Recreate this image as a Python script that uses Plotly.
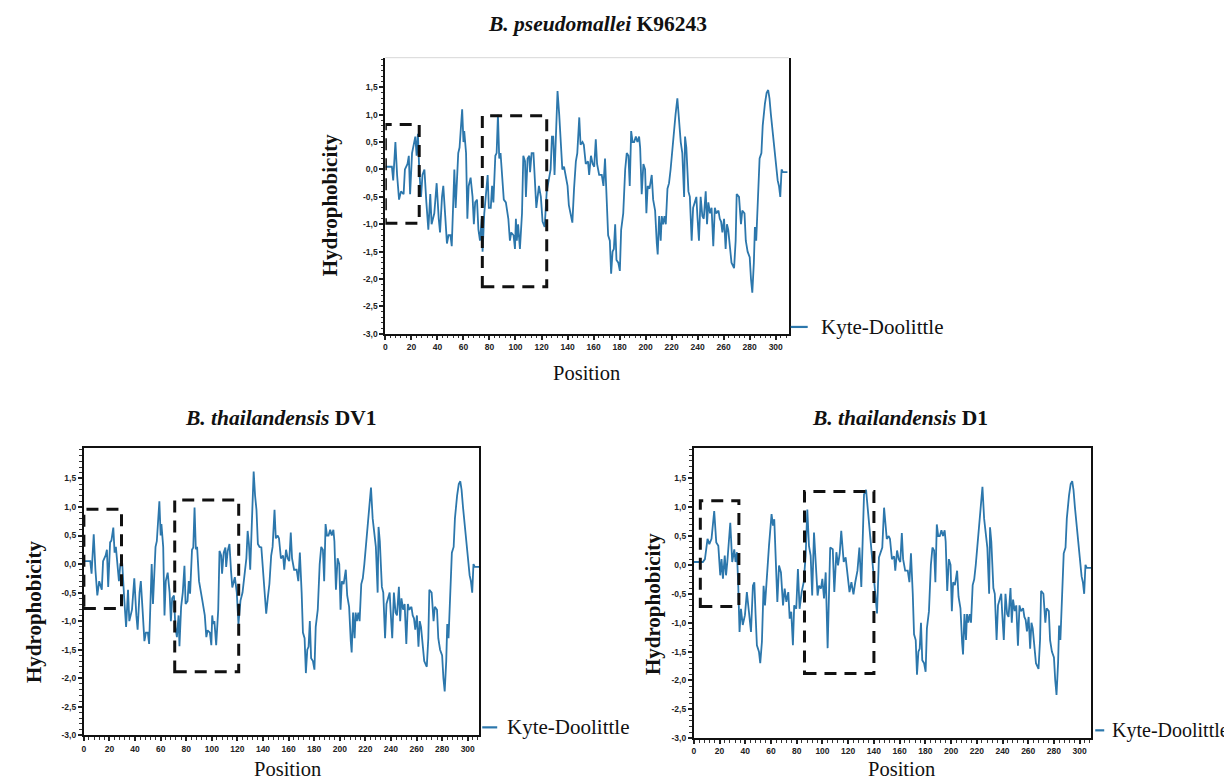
import plotly.graph_objects as go

W, H = 1232, 780

# ---------------- data ----------------
# B. pseudomallei K96243
kp_pos = [0, 5, 6, 7.7, 9, 10.5, 12, 14, 15, 17,
          18, 19, 20.5, 21.5, 23, 24, 25, 26, 27.4, 28.5,
          30, 31.5, 33, 34.5, 35.5, 37.6, 39.4, 41, 42, 43.5,
          44.5, 46, 47.3, 48.5, 50, 51, 53, 54, 55, 56,
          57, 59, 60, 60.6, 62, 63, 64, 65.5, 67, 68,
          69, 70.4, 71.5, 72.7, 74, 74.7, 76, 77.3, 78.6, 79.5,
          81, 82, 83, 84.5, 85.5, 86.5, 87.5, 88.5, 90, 91,
          92.6, 94.5, 95.7, 96.7, 98.5, 99.6, 100.3, 101, 102, 103.4,
          105, 106, 107.3, 108, 109.3, 110.6, 111.2, 112.4, 113.8, 115,
          116, 118, 119.5, 120.8, 122.4, 124, 125.5, 127, 128, 129,
          130, 131.3, 132.3, 133.6, 134.9, 136, 137.3, 138.7, 140, 141,
          142.5, 143.7, 145, 146.4, 147.5, 149, 150, 151.5, 152.5, 154,
          155.7, 156.6, 158, 159.3, 160.5, 161.7, 162.7, 164.3, 166.3, 167.6,
          168.8, 170.2, 171.2, 172.5, 173.5, 174.6, 175.6, 176.6, 177.6, 179,
          180.2, 181.2, 182.8, 184.3, 185.5, 186.8, 187.8, 188.9, 190, 191.2,
          192.5, 193.7, 195, 195.8, 197, 198.3, 199.6, 200.6, 201.6, 203,
          204.7, 205.8, 207.3, 208.6, 209.3, 210.4, 211.6, 212.4, 213.4, 214.5,
          215.5, 216.8, 218, 219.2, 220.6, 221.8, 223, 224.4, 225.7, 227,
          228.2, 229.6, 230.3, 231.3, 232.9, 234, 235.4, 236.5, 237.8, 239,
          239.8, 241, 242.3, 243.6, 244.7, 246.2, 247.2, 248.2, 249.5, 250.7,
          252, 253.2, 254.3, 256, 257, 258, 259, 260.3, 261.5, 262.5,
          263.5, 264.8, 266, 268, 269.2, 270, 271.8, 273.3, 274.3, 276,
          277, 278.4, 280, 281, 282, 283.2, 284, 285, 286.5, 287.6,
          289, 290, 291.7, 293, 294.2, 295.2, 296.3, 297.3, 299, 300,
          301.5, 302.5, 303.5, 304.5, 305.5, 309]
kp_val = [0.05, 0.05, -0.2, 0.5, -0.1, -0.55, -0.4, -0.45, 0.0, 0.1,
          0.25, -0.45, 0.3, 0.4, 0.6, 0.25, 0.65, 0.0, -0.5, -0.1,
          0.0, -0.6, -1.1, -0.45, -1.0, -0.8, -0.25, -0.9, -1.15, -0.5,
          -0.3, -0.85, -1.35, -1.2, -1.2, -1.4, 0.0, -0.7, -0.1, 0.3,
          0.4, 1.1, 0.5, 0.7, 0.3, -0.9, -0.3, -0.15, -0.5, -1.0,
          -0.6, -0.55, -1.1, -1.3, -0.9, -1.5, -0.8, -0.5, -0.1, -0.7,
          -0.7, -0.3, -0.6, 0.25, 0.3, 1.0, 0.2, 0.3, -0.3, -0.55,
          -0.6, -0.9, -1.3, -1.15, -1.2, -1.45, -0.9, -1.3, -1.0, -1.45,
          -0.8, 0.25, 0.15, -0.5, 0.2, 0.25, -0.05, 0.3, 0.3, -0.3,
          -0.7, -0.3, -0.5, -0.95, -1.05, -0.4, -0.2, 0.0, 0.6, 0.6,
          -0.1, 0.8, 1.43, 1.0, 0.35, 0.0, 0.05, -0.1, -0.3, -0.65,
          -0.85, -0.97, -0.35, 0.15, 0.3, 0.95, 0.45, 0.5, 0.45, 0.1,
          0.15, -0.1, 0.25, 0.1, 0.05, 0.55, 0.1, -0.1, -0.1, -0.3,
          0.2, -0.5, -1.2, -1.3, -1.9, -1.5, -1.45, -1.0, -1.65, -1.7,
          -1.85, -1.1, -0.8, 0.0, 0.3, 0.25, -0.3, 0.7, 0.5, 0.5,
          0.6, 0.5, 0.6, 0.4, -0.45, 0.1, 0.0, -0.8, -0.3, -0.35,
          -0.1, -0.55, -0.75, -1.35, -1.55, -0.85, -1.3, -0.85, -1.0, -0.85,
          -1.0, -0.35, -0.25, 0.0, 0.4, 0.6, 1.0, 1.3, 0.8, 0.5,
          0.3, -0.5, 0.6, 0.4, -0.4, -0.5, -1.3, -0.7, -0.6, -0.5,
          -0.85, -1.3, -0.5, -0.85, -0.9, -0.4, -1.0, -0.6, -0.8, -0.7,
          -1.4, -0.7, -0.8, -0.75, -0.9, -0.95, -1.15, -0.9, -1.45, -1.0,
          -1.1, -1.5, -1.7, -1.8, -1.3, -0.45, -0.5, -1.0, -0.75, -0.8,
          -1.3, -1.5, -1.6, -2.0, -2.25, -1.7, -1.05, -1.3, -0.3, 0.2,
          0.3, 0.8, 1.2, 1.4, 1.45, 1.3, 1.0, 0.75, 0.4, 0.1,
          -0.2, -0.3, -0.5, 0.0, -0.05, -0.05]

# B. thailandensis DV1
dv1_pos = [0, 5, 6, 7.7, 9, 10.5, 12, 14, 15, 17,
           18, 19, 20.5, 21.5, 23, 24, 25, 26, 27.4, 28.5,
           30, 31.5, 33, 34.5, 35.5, 37.6, 39.4, 41, 42, 43.5,
           44.5, 46, 47.3, 48.5, 50, 51, 53, 54, 55, 56,
           57, 59, 60, 60.6, 62, 63, 64, 65.5, 67, 68,
           69, 70.4, 71.5, 72.7, 74, 74.7, 76, 77.3, 78.6, 79.5,
           81, 82, 83, 84.5, 85.5, 86.5, 87.5, 88.5, 90, 91,
           92.6, 94.5, 95.7, 96.7, 98.5, 99.6, 100.3, 101, 102, 103.4,
           105, 106, 107.3, 108, 109.3, 110.6, 111.2, 112.4, 113.8, 115,
           116, 118, 119.5, 120.8, 122.4, 124, 125.5, 127, 128, 129,
           130, 131.3, 132.7, 133.8, 134.9, 136, 137.3, 138.7, 140, 141,
           142.5, 143.7, 145, 146.4, 147.5, 149, 150, 151.5, 152.5, 154,
           155.7, 156.6, 158, 159.3, 160.5, 161.7, 162.7, 164.3, 166.3, 167.6,
           168.8, 170.2, 171.2, 172.5, 173.5, 174.6, 175.6, 176.6, 177.6, 179,
           180.2, 181.2, 182.8, 184.3, 185.5, 186.8, 187.8, 188.9, 190, 191.2,
           192.5, 193.7, 195, 195.8, 197, 198.3, 199.6, 200.6, 201.6, 203,
           204.7, 205.8, 207.3, 208.6, 209.3, 210.4, 211.6, 212.4, 213.4, 214.5,
           215.5, 216.8, 218, 219.2, 220.6, 221.8, 223, 224.4, 225.7, 227,
           228.2, 229.6, 230.3, 231.3, 232.9, 234, 235.4, 236.5, 237.8, 239,
           239.8, 241, 242.3, 243.6, 244.7, 246.2, 247.2, 248.2, 249.5, 250.7,
           252, 253.2, 254.3, 256, 257, 258, 259, 260.3, 261.5, 262.5,
           263.5, 264.8, 266, 268, 269.2, 270, 271.8, 273.3, 274.3, 276,
           277, 278.4, 280, 281, 282, 283.2, 284, 285, 286.5, 287.6,
           289, 290, 291.7, 293, 294.2, 295.2, 296.3, 297.3, 299, 300,
           301.5, 302.5, 303.5, 304.5, 305.5, 309]
dv1_val = [0.05, 0.05, -0.17, 0.52, -0.1, -0.55, -0.3, -0.45, 0.05, 0.15,
           0.25, -0.4, 0.38, 0.41, 0.64, 0.2, 0.3, 0.05, -0.3, 0.0,
           0.0, -0.6, -1.1, -0.45, -1.0, -0.8, -0.25, -0.9, -1.15, -0.5,
           -0.3, -0.85, -1.35, -1.2, -1.2, -1.4, 0.0, -0.7, -0.1, 0.3,
           0.4, 1.1, 0.5, 0.7, 0.3, -0.9, -0.3, -0.15, -0.5, -1.0,
           -0.6, -0.55, -1.1, -1.28, -0.9, -1.44, -0.75, -0.5, -0.03, -0.7,
           -0.65, -0.3, -0.52, 0.25, 0.29, 0.99, 0.26, 0.3, -0.3, -0.46,
           -0.64, -0.9, -1.28, -1.16, -1.2, -1.42, -0.9, -1.05, -1.0, -1.42,
           -0.8, 0.23, 0.15, -0.17, 0.2, 0.29, -0.05, 0.23, 0.35, -0.12,
           -0.41, -0.23, -0.5, -1.05, -0.64, -0.5, -0.17, 0.1, 0.58, 0.35,
           -0.1, 0.8, 1.62, 1.2, 0.95, 0.35, 0.3, 0.29, -0.1, -0.5,
           -0.87, -0.6, -0.35, 0.15, 0.3, 0.95, 0.45, 0.5, 0.45, 0.1,
           0.15, -0.1, 0.25, 0.1, 0.05, 0.55, 0.1, -0.1, -0.1, -0.3,
           0.2, -0.5, -1.2, -1.3, -1.91, -1.5, -1.45, -1.0, -1.65, -1.7,
           -1.85, -1.1, -0.8, 0.0, 0.3, 0.25, -0.3, 0.7, 0.5, 0.5,
           0.6, 0.5, 0.6, 0.4, -0.45, 0.1, 0.0, -0.8, -0.3, -0.35,
           -0.1, -0.55, -0.75, -1.35, -1.55, -0.85, -1.3, -0.85, -1.0, -0.85,
           -1.0, -0.35, -0.25, 0.0, 0.4, 0.6, 1.0, 1.34, 0.8, 0.5,
           0.3, -0.5, 0.65, 0.4, -0.4, -0.5, -1.3, -0.7, -0.6, -0.5,
           -0.85, -1.3, -0.5, -0.85, -0.9, -0.4, -1.0, -0.6, -0.8, -0.7,
           -1.4, -0.7, -0.8, -0.75, -0.9, -0.95, -1.15, -0.9, -1.45, -1.0,
           -1.1, -1.5, -1.7, -1.8, -1.3, -0.45, -0.5, -1.0, -0.75, -0.8,
           -1.3, -1.5, -1.6, -2.0, -2.23, -1.7, -1.05, -1.3, -0.3, 0.2,
           0.3, 0.8, 1.2, 1.4, 1.45, 1.3, 1.0, 0.75, 0.4, 0.1,
           -0.2, -0.3, -0.5, 0.0, -0.05, -0.05]

# B. thailandensis D1
d1_pos = [0, 3, 7, 8.6, 10.6, 12, 13.7, 15.8, 17.4, 19,
          20.5, 21.5, 22.6, 24, 25, 26, 28.3, 29.8, 31.4, 32.4,
          33.5, 34.5, 35.5, 36.6, 38, 39.7, 41.2, 42.8, 44.4, 45.9,
          47, 48, 49, 50.6, 51.6, 52.9, 54.2, 55.3, 57, 58.4,
          60.4, 61.5, 62.5, 63.6, 64.9, 66.2, 67.7, 69.3, 70.6, 71.9,
          73.4, 74.5, 75.7, 77, 78, 79.6, 80.9, 82.2, 83.8, 85.4,
          86.9, 88.2, 89.5, 90.8, 92, 93.4, 94.7, 96.2, 97.3, 98.8,
          99.9, 101.2, 102.5, 104, 106, 108, 109.2, 110.8, 112.1, 113.4,
          114.6, 116.5, 118, 119.5, 121, 122.5, 124.1, 125.5, 127.2, 128.7,
          130.2, 132.3, 133.9, 135.5, 136.9, 138.7, 140.2, 142.4, 143.9, 145.5,
          146.5, 147.9, 150, 151.5, 152.5, 154,
          155.7, 156.6, 158, 159.3, 160.5, 161.7, 162.7, 164.3, 166.3, 167.6,
          168.8, 170.2, 171.2, 172.5, 173.5, 174.6, 175.6, 176.6, 177.6, 179,
          180.2, 181.2, 182.8, 184.3, 185.5, 186.8, 187.8, 188.9, 190, 191.2,
          192.5, 193.7, 195, 195.8, 197, 198.3, 199.6, 200.6, 201.6, 203,
          204.7, 205.8, 207.3, 208.6, 209.3, 210.4, 211.6, 212.4, 213.4, 214.5,
          215.5, 216.8, 218, 219.2, 220.6, 221.8, 223, 224.4, 225.7, 227,
          228.2, 229.6, 230.3, 231.3, 232.9, 234, 235.4, 236.5, 237.8, 239,
          239.8, 241, 242.3, 243.6, 244.7, 246.2, 247.2, 248.2, 249.5, 250.7,
          252, 253.2, 254.3, 256, 257, 258, 259, 260.3, 261.5, 262.5,
          263.5, 264.8, 266, 268, 269.2, 270, 271.8, 273.3, 274.3, 276,
          277, 278.4, 280, 281, 282, 283.2, 284, 285, 286.5, 287.6,
          289, 290, 291.7, 293, 294.2, 295.2, 296.3, 297.3, 299, 300,
          301.5, 302.5, 303.5, 304.5, 305.5, 309]
d1_val = [0.05, 0.05, 0.05, 0.1, 0.45, 0.36, 0.45, 0.93, 0.39, 0.33,
          -0.18, 0.1, -0.24, 0.16, -0.18, 0.05, 0.73, 0.05, 0.27, 0.05,
          0.22, -0.36, -1.16, -0.76, -1.04, -0.87, -0.47, -0.81, -1.16, -0.36,
          -0.3, -0.87, -1.39, -1.5, -1.7, -1.33, -0.36, -0.7, -0.07, 0.33,
          0.88, 0.68, 0.79, 0.16, -0.64, -0.01, -0.13, -0.7, -0.41, -0.64,
          -0.47, -0.93, -0.81, -1.39, -0.7, -0.76, -0.07, -0.76, -0.47, -0.3,
          0.16, 0.96, 0.33, 0.16, -0.53, 0.56, 0.1, -0.53, -0.36, -0.41,
          -0.24, -0.58, -0.13, -1.44, 0.3, 0.27, -0.47, 0.22, -0.01, 0.2,
          0.59, 0.05, 0.13, -0.2, -0.47, -0.3, -0.51, -0.3, -0.1, 0.3,
          -0.38, 1.22, 1.3, 0.9, 0.53, 0.13, -0.33, -0.84, 0.13, 0.25,
          0.3, 0.99, 0.45, 0.5, 0.45, 0.1,
          0.15, -0.1, 0.25, 0.1, 0.05, 0.55, 0.1, -0.1, -0.1, -0.3,
          0.2, -0.5, -1.2, -1.3, -1.9, -1.5, -1.45, -1.0, -1.65, -1.7,
          -1.85, -1.1, -0.8, 0.0, 0.3, 0.25, -0.3, 0.7, 0.5, 0.5,
          0.6, 0.5, 0.6, 0.4, -0.45, 0.1, 0.0, -0.8, -0.3, -0.35,
          -0.1, -0.55, -0.75, -1.35, -1.55, -0.85, -1.3, -0.85, -1.0, -0.85,
          -1.0, -0.35, -0.25, 0.0, 0.4, 0.6, 1.0, 1.35, 0.8, 0.5,
          0.3, -0.5, 0.65, 0.4, -0.4, -0.5, -1.3, -0.7, -0.6, -0.5,
          -0.85, -1.3, -0.5, -0.85, -0.9, -0.4, -1.0, -0.6, -0.8, -0.7,
          -1.4, -0.7, -0.8, -0.75, -0.9, -0.95, -1.15, -0.9, -1.45, -1.0,
          -1.1, -1.5, -1.7, -1.8, -1.3, -0.45, -0.5, -1.0, -0.75, -0.8,
          -1.3, -1.5, -1.6, -2.0, -2.25, -1.7, -1.05, -1.3, -0.3, 0.2,
          0.3, 0.8, 1.2, 1.4, 1.45, 1.3, 1.0, 0.75, 0.4, 0.1,
          -0.2, -0.3, -0.5, 0.0, -0.05, -0.05]

# highlighted regions: (x0, x1, y0, y1) in data units
kp_boxes = [(0, 26, -0.98, 0.82), (74.5, 124, -2.14, 0.98)]
dv1_boxes = [(0, 29.4, -0.78, 0.96), (71, 121, -1.885, 1.12)]
d1_boxes = [(5, 35, -0.72, 1.11), (86, 140, -1.88, 1.27)]

y_ticks = [1.5, 1.0, 0.5, 0.0, -0.5, -1.0, -1.5, -2.0, -2.5, -3.0]
y_tick_text = ["1,5", "1,0", "0,5", "0,0", "-0,5", "-1,0", "-1,5", "-2,0", "-2,5", "-3,0"]
x_ticks = [0, 20, 40, 60, 80, 100, 120, 140, 160, 180, 200, 220, 240, 260, 280, 300]
x_tick_text = ["0", "20", "40", "60", "80", "100", "120", "140", "160", "180",
               "200", "220", "240", "260", "280", "300"]

series_name = "Kyte-Doolittle"
titles = ["<b><i>B. pseudomallei</i> K96243</b>",
          "<b><i>B. thailandensis</i> DV1</b>",
          "<b><i>B. thailandensis</i> D1</b>"]

LINE = "#2c77ac"
SERIF = "Liberation Serif"


def px_x(v):
    return v / W


def px_y(v):
    return 1 - v / H


# panel geometry in pixels: left, right, top, bottom
panels = [
    dict(pos=kp_pos, val=kp_val, boxes=kp_boxes, box=(376, 780, 50, 328), yr=[-3.0, 2.04], xr=[0, 310],
         title=titles[0], tpos=(588, 16), ylab=(320, 198), xlab=(577, 367),
         leg=(782, 799, 810, 321, 21), full=False),
    dict(pos=dv1_pos, val=dv1_val, boxes=dv1_boxes, box=(74, 470, 443, 732), yr=[-3.0, 2.03], xr=[0, 309],
         title=titles[1], tpos=(271, 413), ylab=(24, 608), xlab=(278, 766),
         leg=(473, 488, 496, 724, 21), full=True),
    dict(pos=d1_pos, val=d1_val, boxes=d1_boxes, box=(685, 1083, 443, 735), yr=[-3.0, 2.02], xr=[0, 309],
         title=titles[2], tpos=(891, 413), ylab=(644, 600), xlab=(893, 766),
         leg=(1087, 1096, 1102, 727, 20), full=True),
]

fig = go.Figure()
layout = dict(width=W, height=H, margin=dict(l=0, r=0, t=0, b=0),
              paper_bgcolor="white", plot_bgcolor="white", showlegend=False)
shapes = []
annotations = []

tickfont = dict(family="Liberation Sans", size=8.5, color="#222222", weight="bold")

for i, p in enumerate(panels):
    n = "" if i == 0 else str(i + 1)
    xa, ya = "x" + n, "y" + n
    l, r, t, b = p["box"]
    fig.add_trace(go.Scatter(x=p["pos"], y=p["val"], mode="lines", name=series_name,
                             line=dict(color=LINE, width=1.8), xaxis=xa, yaxis=ya,
                             hoverinfo="x+y"))
    layout["xaxis" + n] = dict(
        domain=[px_x(l), px_x(r)], anchor=ya, range=p["xr"], tickmode="array",
        tickvals=x_ticks, ticktext=x_tick_text, ticks="outside", ticklen=4, tickwidth=1.5,
        tickcolor="#222", showline=True, linecolor="#111", linewidth=2,
        mirror=p["full"], showgrid=False, zeroline=False, tickfont=tickfont,
        minor=dict(tickmode="linear", tick0=0, dtick=4, ticks="outside", ticklen=2.5,
                   tickcolor="#333", tickwidth=1))
    layout["yaxis" + n] = dict(
        domain=[px_y(b), px_y(t)], anchor=xa, range=p["yr"], tickmode="array",
        tickvals=y_ticks, ticktext=y_tick_text, ticks="outside", ticklen=4, tickwidth=1.5,
        tickcolor="#222", showline=True, linecolor="#111", linewidth=2,
        mirror=True, showgrid=False, zeroline=False, tickfont=tickfont,
        minor=dict(tickmode="linear", tick0=0, dtick=0.1, ticks="outside", ticklen=2.5,
                   tickcolor="#333", tickwidth=1))
    if not p["full"]:
        shapes.append(dict(type="line", xref=xa + " domain", yref=ya + " domain",
                           x0=0, x1=1, y0=1, y1=1, line=dict(color="#d8d8d8", width=1)))
    for (x0, x1, y0, y1) in p["boxes"]:
        shapes.append(dict(type="rect", xref=xa, yref=ya, x0=x0, x1=x1, y0=y0, y1=y1,
                           line=dict(color="#111", width=3, dash="12px,8px"),
                           fillcolor="rgba(0,0,0,0)"))
    # title
    annotations.append(dict(text=p["title"], x=px_x(p["tpos"][0]), y=px_y(p["tpos"][1]),
                            xref="paper", yref="paper", showarrow=False, xanchor="center",
                            yanchor="middle", font=dict(family=SERIF, size=21.5, color="#111")))
    # y label
    annotations.append(dict(text="<b>Hydrophobicity</b>", x=px_x(p["ylab"][0]), y=px_y(p["ylab"][1]),
                            xref="paper", yref="paper", showarrow=False, textangle=-90,
                            xanchor="center", yanchor="middle",
                            font=dict(family=SERIF, size=21, color="#111")))
    # x label
    annotations.append(dict(text="Position", x=px_x(p["xlab"][0]), y=px_y(p["xlab"][1]),
                            xref="paper", yref="paper", showarrow=False, xanchor="center",
                            yanchor="middle", font=dict(family=SERIF, size=20.5, color="#111")))
    # legend entry
    d0, d1, tx, ly, fs = p["leg"]
    shapes.append(dict(type="line", xref="paper", yref="paper", x0=px_x(d0), x1=px_x(d1),
                       y0=px_y(ly), y1=px_y(ly), line=dict(color=LINE, width=2.2)))
    annotations.append(dict(text=series_name, x=px_x(tx), y=px_y(ly), xref="paper",
                            yref="paper", showarrow=False, xanchor="left", yanchor="middle",
                            font=dict(family=SERIF, size=fs, color="#111")))

layout["shapes"] = shapes
layout["annotations"] = annotations
fig.update_layout(**layout)
fig.write_html("out.html")
